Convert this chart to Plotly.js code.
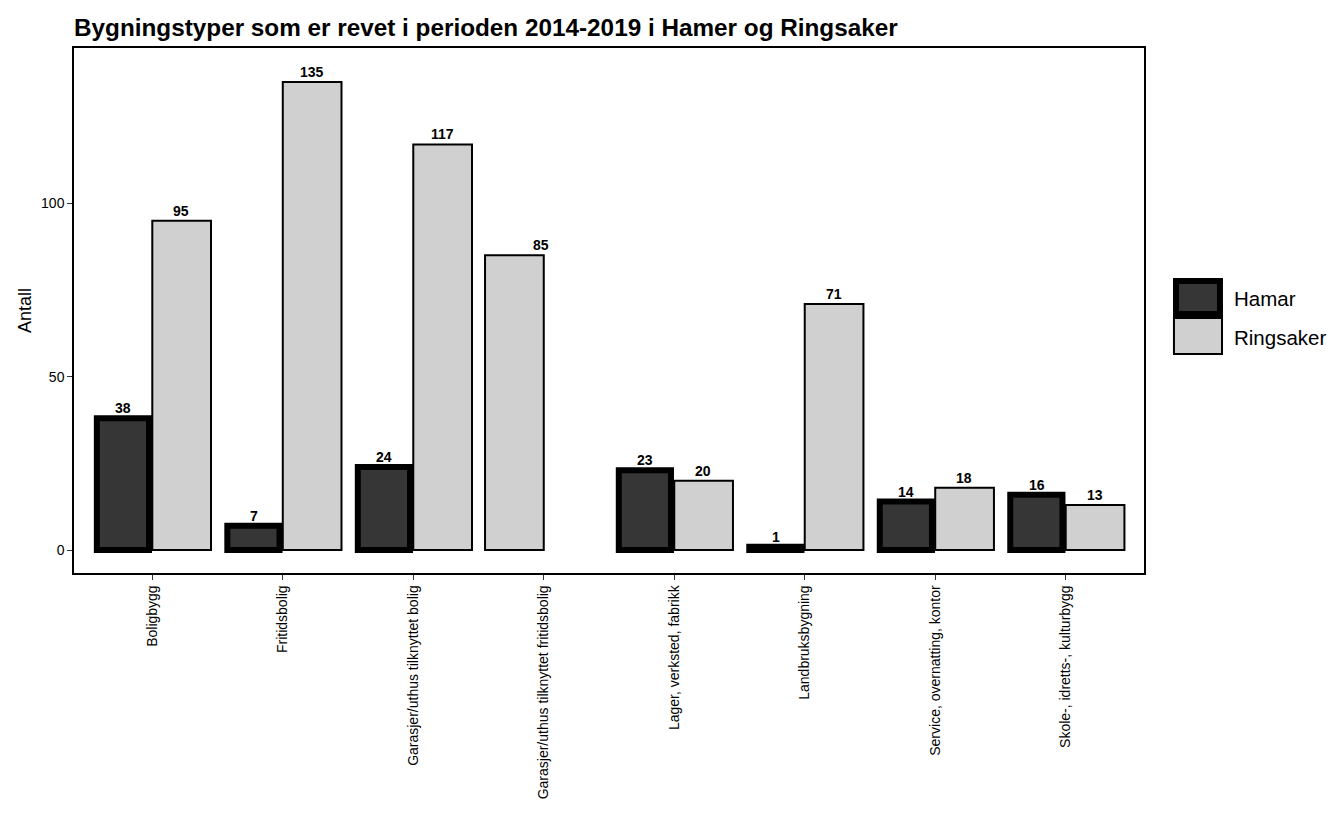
<!DOCTYPE html>
<html>
<head>
<meta charset="utf-8">
<script src="https://cdn.plot.ly/plotly-3.0.1.min.js"></script>
<style>
  html, body { margin: 0; padding: 0; background: #ffffff; }
  #chart { width: 1331px; height: 821px; }
</style>
</head>
<body>
<div id="chart"></div>
<script>
// Building types demolished 2014-2019, Hamar vs Ringsaker
const categories = [
  "Boligbygg",
  "Fritidsbolig",
  "Garasjer/uthus tilknyttet bolig",
  "Garasjer/uthus tilknyttet fritidsbolig",
  "Lager, verksted, fabrikk",
  "Landbruksbygning",
  "Service, overnatting, kontor",
  "Skole-, idretts-, kulturbygg"
];
const hamar     = [38, 7, 24, null, 23, 1, 14, 16];
const ringsaker = [95, 135, 117, 85, 20, 71, 18, 13];
const yTicks = [0, 50, 100];

const FONT = "Liberation Sans, Arial, Helvetica, sans-serif";

// Ringsaker sits in the right slot, or in the left slot when Hamar has no value
const ringOffset = hamar.map(v => (v === null ? -0.45 : 0));

const traces = [
  {
    type: "bar",
    name: "Hamar",
    x: categories,
    y: hamar,
    width: 0.40,
    offset: -0.425,
    marker: { color: "#363636", line: { color: "#000000", width: 6 } },
    showlegend: false,
    hoverinfo: "x+y+name"
  },
  {
    type: "bar",
    name: "Ringsaker",
    x: categories,
    y: ringsaker,
    width: 0.45,
    offset: ringOffset,
    marker: { color: "#d0d0d0", line: { color: "#000000", width: 2 } },
    showlegend: false,
    hoverinfo: "x+y+name"
  }
];

// Value labels above each bar
const labelFont = { family: FONT, size: 14, color: "#000000", weight: "bold" };
const annotations = [];
categories.forEach((c, i) => {
  const h = hamar[i];
  const r = ringsaker[i];
  if (h !== null) {
    annotations.push({
      x: c, y: h, xref: "x", yref: "y", text: String(h),
      showarrow: false, yanchor: "bottom", xshift: -29, yshift: 0,
      font: labelFont
    });
  }
  annotations.push({
    x: c, y: r, xref: "x", yref: "y", text: String(r),
    showarrow: false, yanchor: "bottom", xshift: h === null ? -3 : 29, yshift: 0,
    font: labelFont
  });
});

// Legend labels
annotations.push(
  { x: 1.0822, y: 0.5238, xref: "paper", yref: "paper", text: "Hamar",
    showarrow: false, xanchor: "left", yanchor: "middle",
    font: { family: FONT, size: 20.5, color: "#000000" } },
  { x: 1.0822, y: 0.4495, xref: "paper", yref: "paper", text: "Ringsaker",
    showarrow: false, xanchor: "left", yanchor: "middle",
    font: { family: FONT, size: 20.5, color: "#000000" } }
);

// Legend keys
const shapes = [
  { type: "rect", xref: "paper", yref: "paper",
    x0: 1.0299, x1: 1.0710, y0: 0.4933, y1: 0.5562,
    fillcolor: "#363636", line: { color: "#000000", width: 6 } },
  { type: "rect", xref: "paper", yref: "paper",
    x0: 1.0280, x1: 1.0729, y0: 0.4171, y1: 0.4857,
    fillcolor: "#d0d0d0", line: { color: "#000000", width: 2 } }
];

const layout = {
  width: 1331,
  height: 821,
  paper_bgcolor: "#ffffff",
  plot_bgcolor: "#ffffff",
  margin: { l: 74, r: 187, t: 48, b: 248 },
  font: { family: FONT, color: "#000000" },
  title: {
    text: "<b>Bygningstyper som er revet i perioden 2014-2019 i Hamer og Ringsaker</b>",
    x: 0, xref: "paper", xanchor: "left",
    y: 0.966, yref: "container", yanchor: "middle",
    font: { family: FONT, size: 24.3, color: "#000000" }
  },
  barmode: "overlay",
  xaxis: {
    type: "category",
    range: [-0.6, 7.6],
    tickangle: -90,
    ticks: "outside",
    ticklen: 5,
    tickwidth: 1,
    tickcolor: "#333333",
    tickfont: { family: FONT, size: 14, color: "#000000" },
    showline: true,
    linecolor: "#000000",
    linewidth: 1.5,
    mirror: true,
    showgrid: false,
    zeroline: false
  },
  yaxis: {
    range: [-6.6, 144.8],
    tickvals: yTicks,
    ticktext: yTicks.map(String),
    ticks: "outside",
    ticklen: 5,
    tickwidth: 1,
    tickcolor: "#333333",
    tickfont: { family: FONT, size: 14, color: "#000000" },
    showline: true,
    linecolor: "#000000",
    linewidth: 1.5,
    mirror: true,
    showgrid: false,
    zeroline: false,
    title: { text: "Antall", font: { family: FONT, size: 18, color: "#000000" }, standoff: 5 }
  },
  annotations: annotations,
  shapes: shapes,
  showlegend: false
};

Plotly.newPlot("chart", traces, layout, { displayModeBar: false, responsive: false });
</script>
</body>
</html>
